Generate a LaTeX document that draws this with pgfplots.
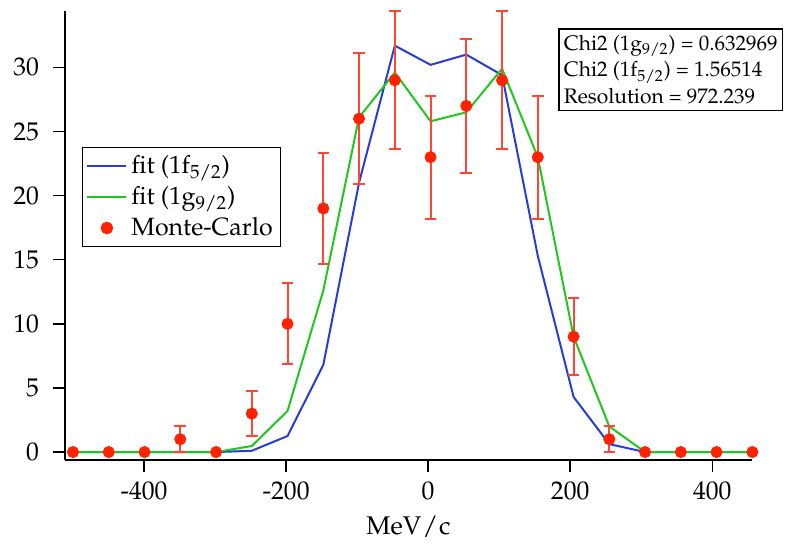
\documentclass[border=0pt]{standalone}
\usepackage[T1]{fontenc}
\usepackage{mathpazo}
\usepackage{pgfplots}
\pgfplotsset{compat=1.18}
\usepackage{pgfplotstable}

\definecolor{fitblue}{RGB}{40,60,220}
\definecolor{fitgreen}{RGB}{30,200,30}
\definecolor{mcred}{RGB}{255,34,0}
\definecolor{errred}{RGB}{255,70,50}

% x, Monte-Carlo counts, sqrt(N) error, fit 1f5/2, fit 1g9/2
\pgfplotstableread{
x      mc  e      f52   g92
-500   0   0      0     0
-449.7 0   0      0     0
-399.3 0   0      0     0
-349.0 1   1      0     0
-298.6 0   0      0     0
-248.3 3   1.732  0.1   0.47
-198.0 10  3.162  1.25  3.2
-147.6 19  4.359  6.8   12.6
-97.3  26  5.099  21.0  26.1
-46.9  29  5.385  31.7  29.6
3.4    23  4.796  30.2  25.8
53.7   27  5.196  31.0  26.5
104.1  29  5.385  29.4  29.9
154.4  23  4.796  15.3  23.0
204.8  9   3      4.3   9.0
255.1  1   1      0.62  2.0
305.4  0   0      0     0
355.8  0   0      0     0
406.1  0   0      0     0
456.5  0   0      0     0
}\mcdata

\begin{document}
\begin{tikzpicture}
\begin{axis}[
  scale only axis,
  width=343.5pt, height=224.5pt,
  xmin=-511.3, xmax=456, ymin=-0.62, ymax=34.4,
  axis lines=left,
  axis line style={-, line width=0.7pt},
  xtick={-400,-200,0,200,400},
  xticklabels={-400,-200,0,200,400},
  ytick={0,5,...,30},
  tick align=outside,
  major tick length=6pt,
  tick style={line width=0.7pt, black},
  font=\fontsize{12.8pt}{15pt}\selectfont,
  xticklabel style={yshift=-1.5pt},
  yticklabel style={xshift=-3.5pt},
  xlabel={MeV\kern0.6pt/\kern0.6pt c},
  xlabel style={yshift=-1pt},
  clip=false,
  legend style={at={(0.0243,0.698)}, anchor=north west, draw=black,
    line width=0.7pt, inner xsep=2pt, inner ysep=2pt, row sep=1pt,
    font=\fontsize{12.5pt}{15pt}\selectfont},
  legend cell align=left,
  legend image code/.code={\draw[mark repeat=2, mark phase=2, #1]
    plot coordinates {(0pt,0pt) (9.75pt,0pt) (19.5pt,0pt)};},
]
\addplot[fitblue, line width=1pt] table[x=x, y=f52] {\mcdata};
\addlegendentry{fit (1f\textsubscript{5/2})}
\addplot[fitgreen, line width=1pt] table[x=x, y=g92] {\mcdata};
\addlegendentry{fit (1g\textsubscript{9/2})}
\addplot[only marks, mark=*, mark size=2.8pt, color=mcred,
  error bars/.cd, y dir=both, y explicit,
  error bar style={line width=1pt, color=errred},
  error mark options={rotate=90, mark size=2.9pt, line width=1pt, color=errred}]
  table[x=x, y=mc, y error=e] {\mcdata};
\addlegendentry{Monte-Carlo}
\node[draw=black, line width=0.7pt, fill=white, anchor=north east, align=left,
  inner xsep=2.5pt, inner ysep=3.2pt, font=\fontsize{10.5pt}{13.2pt}\selectfont]
  at (rel axis cs:1.0456,0.9615)
  {Chi2 (1g\textsubscript{9/2}) = 0.632969\\
   Chi2 (1f\textsubscript{5/2}) = 1.56514\\
   Resolution = 972.239};
\end{axis}
\path ([shift={(-32.5pt,-39.5pt)}]rel axis cs:0,0) rectangle ([shift={(19pt,5.5pt)}]rel axis cs:1,1);
\end{tikzpicture}
\end{document}
